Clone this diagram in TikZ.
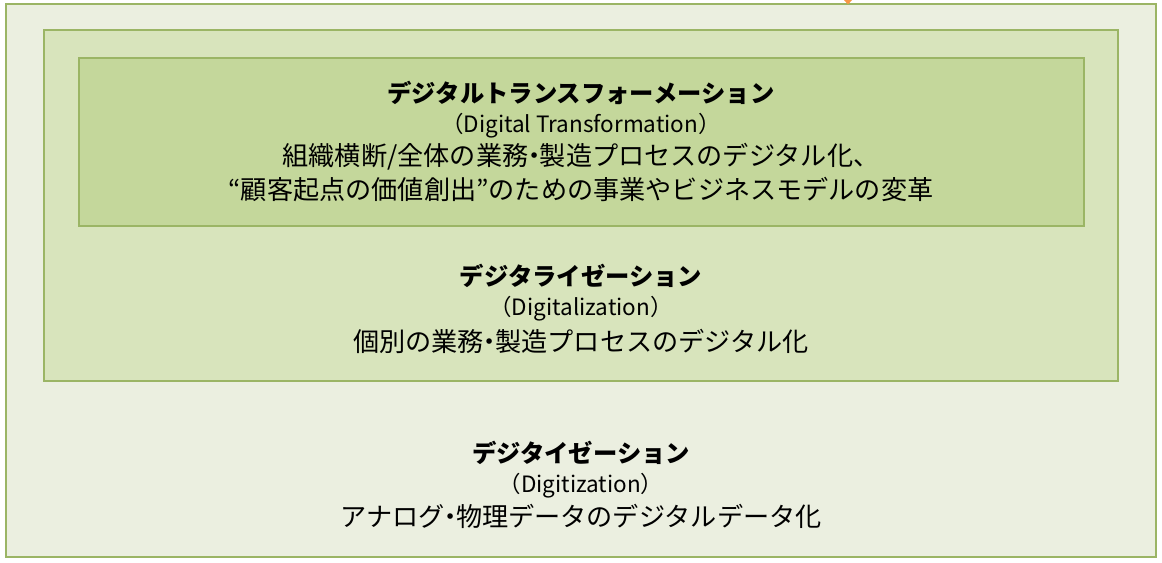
\documentclass[tikz,border=0pt]{standalone}
\usepackage{fontspec}
\setmainfont{Noto Sans CJK JP}
\usetikzlibrary{positioning}
\definecolor{frameline}{HTML}{9BB565}
\definecolor{outerfill}{HTML}{EBEFE0}
\definecolor{midfill}{HTML}{D8E4BC}
\definecolor{innerfill}{HTML}{C4D79B}
\definecolor{accent}{HTML}{F79646}
\newcommand{\ndot}{\kern-0.28em・\kern-0.28em}
\tikzset{
  layer/.style={draw=frameline, line width=1.4pt},
  title/.style={font=\fontsize{17.3}{19}\selectfont\bfseries, inner sep=0pt},
  engname/.style={font=\fontsize{16}{18}\selectfont, inner sep=0pt},
  desc/.style={font=\fontsize{18.6}{20}\selectfont, inner sep=0pt}
}
\begin{document}
\begin{tikzpicture}[x=0.025cm, y=-0.025cm]
    \useasboundingbox (0,0) rectangle (1162,563);

    % Layers
    \draw[layer, fill=outerfill] (6,4) rectangle (1156,557);
    \draw[layer, fill=midfill] (44,30) rectangle (1118,381);
    \draw[layer, fill=innerfill] (79,58) rectangle (1084,226);
    \fill[accent] (844,0) -- (852,0) -- (848,4.5) -- cycle;

    % Digital Transformation
    \node[title] (dxtitle) at (581,93) {デジタルトランスフォーメーション};
    \node[engname] (dxeng) at (581,126) {（Digital Transformation）};
    \node[desc] (dxline1) at (581,157) {組織横断/全体の業務\ndot 製造プロセスのデジタル化、};
    \node[desc] (dxline2) at (581,190) {“顧客起点の価値創出”のための事業やビジネスモデルの変革};

    % Digitalization
    \node[title] (dltitle) at (581,276) {デジタライゼーション};
    \node[engname] (dleng) at (581,309) {（Digitalization）};
    \node[desc] (dlline) at (581,341) {個別の業務\ndot 製造プロセスのデジタル化};

    % Digitization
    \node[title] (dztitle) at (581,453) {デジタイゼーション};
    \node[engname] (dzeng) at (581,486) {（Digitization）};
    \node[desc] (dzline) at (581,516) {アナログ\ndot 物理データのデジタルデータ化};
\end{tikzpicture}
\end{document}
